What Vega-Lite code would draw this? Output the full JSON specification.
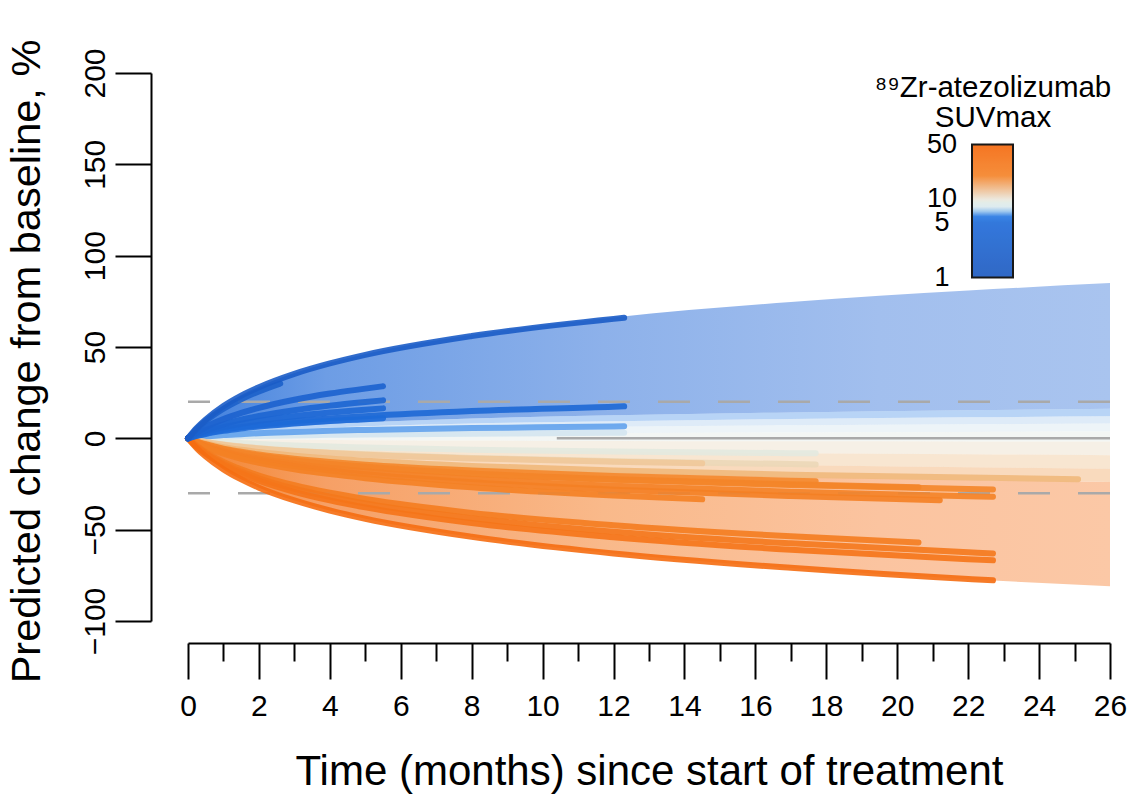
{
  "$schema": "https://vega.github.io/schema/vega-lite/v6.json",
  "autosize": {"type": "none"},
  "padding": {"left": 188, "top": 73, "right": 25, "bottom": 173},
  "width": 922,
  "height": 548,
  "background": "white",
  "config": {
    "view": {"stroke": null},
    "font": "Liberation Sans",
    "axis": {"grid": false, "domainColor": "black", "domainWidth": 2, "tickColor": "black", "tickWidth": 2, "labelColor": "black", "titleColor": "black", "labelFont": "Liberation Sans", "titleFont": "Liberation Sans", "titleFontWeight": "normal"},
    "legend": {"labelFont": "Liberation Sans", "titleFont": "Liberation Sans"}
  },
  "datasets": {
    "fan": [
      {"t": 0, "e0": 0, "e1": 0, "e2": 0, "e3": 0, "e4": 0, "e5": 0, "e6": 0, "e7": 0, "e8": 0, "e9": 0},
      {"t": 0.25, "e0": 5.8, "e1": 1.1, "e2": 0.8, "e3": 0.5, "e4": 0.25, "e5": -0.1, "e6": -0.6, "e7": -1.1, "e8": -1.6, "e9": -5.5},
      {"t": 0.5, "e0": 10.4, "e1": 2.0, "e2": 1.5, "e3": 1.0, "e4": 0.45, "e5": -0.2, "e6": -1.1, "e7": -2.0, "e8": -2.9, "e9": -10.0},
      {"t": 1, "e0": 17.9, "e1": 3.4, "e2": 2.5, "e3": 1.7, "e4": 0.8, "e5": -0.4, "e6": -1.9, "e7": -3.5, "e8": -5.0, "e9": -17.0},
      {"t": 2, "e0": 28.4, "e1": 5.4, "e2": 4.0, "e3": 2.7, "e4": 1.2, "e5": -0.6, "e6": -3.1, "e7": -5.5, "e8": -8.0, "e9": -27.0},
      {"t": 3, "e0": 35.8, "e1": 6.8, "e2": 5.1, "e3": 3.4, "e4": 1.6, "e5": -0.8, "e6": -3.9, "e7": -7.0, "e8": -10.0, "e9": -34.1},
      {"t": 5, "e0": 46.2, "e1": 8.8, "e2": 6.6, "e3": 4.4, "e4": 2.0, "e5": -1.0, "e6": -5.0, "e7": -9.0, "e8": -13.0, "e9": -44.0},
      {"t": 8, "e0": 56.7, "e1": 10.8, "e2": 8.1, "e3": 5.4, "e4": 2.5, "e5": -1.2, "e6": -6.1, "e7": -11.1, "e8": -15.9, "e9": -54.0},
      {"t": 12, "e0": 66.2, "e1": 12.6, "e2": 9.4, "e3": 6.3, "e4": 2.9, "e5": -1.4, "e6": -7.2, "e7": -12.9, "e8": -18.6, "e9": -63.0},
      {"t": 17, "e0": 74.6, "e1": 14.2, "e2": 10.6, "e3": 7.1, "e4": 3.2, "e5": -1.6, "e6": -8.1, "e7": -14.6, "e8": -21.0, "e9": -71.0},
      {"t": 22, "e0": 80.9, "e1": 15.4, "e2": 11.5, "e3": 7.7, "e4": 3.5, "e5": -1.7, "e6": -8.7, "e7": -15.8, "e8": -22.7, "e9": -77.1},
      {"t": 26, "e0": 85.0, "e1": 16.2, "e2": 12.1, "e3": 8.1, "e4": 3.7, "e5": -1.8, "e6": -9.2, "e7": -16.6, "e8": -23.9, "e9": -81.0}
    ],
    "patients": [
      {"id": "B9", "suv": 7.6, "t": 0, "pct": 0}, {"id": "B9", "suv": 7.6, "t": 0.25, "pct": 0.3}, {"id": "B9", "suv": 7.6, "t": 0.5, "pct": 0.5}, {"id": "B9", "suv": 7.6, "t": 1, "pct": 0.8}, {"id": "B9", "suv": 7.6, "t": 1.5, "pct": 1.1}, {"id": "B9", "suv": 7.6, "t": 2, "pct": 1.3}, {"id": "B9", "suv": 7.6, "t": 3, "pct": 1.6}, {"id": "B9", "suv": 7.6, "t": 4, "pct": 1.9}, {"id": "B9", "suv": 7.6, "t": 5, "pct": 2.1}, {"id": "B9", "suv": 7.6, "t": 8, "pct": 2.5}, {"id": "B9", "suv": 7.6, "t": 12, "pct": 3.0}, {"id": "B9", "suv": 7.6, "t": 12.3, "pct": 3.0},
      {"id": "O1", "suv": 9.5, "t": 0, "pct": 0}, {"id": "O1", "suv": 9.5, "t": 0.25, "pct": -0.6}, {"id": "O1", "suv": 9.5, "t": 0.5, "pct": -1.1}, {"id": "O1", "suv": 9.5, "t": 1, "pct": -1.9}, {"id": "O1", "suv": 9.5, "t": 1.5, "pct": -2.6}, {"id": "O1", "suv": 9.5, "t": 2, "pct": -3.1}, {"id": "O1", "suv": 9.5, "t": 3, "pct": -3.9}, {"id": "O1", "suv": 9.5, "t": 4, "pct": -4.5}, {"id": "O1", "suv": 9.5, "t": 5, "pct": -5.0}, {"id": "O1", "suv": 9.5, "t": 8, "pct": -6.2}, {"id": "O1", "suv": 9.5, "t": 12, "pct": -7.2}, {"id": "O1", "suv": 9.5, "t": 17, "pct": -8.1}, {"id": "O1", "suv": 9.5, "t": 17.7, "pct": -8.2},
      {"id": "B8", "suv": 6.8, "t": 0, "pct": 0}, {"id": "B8", "suv": 6.8, "t": 0.25, "pct": 0.6}, {"id": "B8", "suv": 6.8, "t": 0.5, "pct": 1.0}, {"id": "B8", "suv": 6.8, "t": 1, "pct": 1.8}, {"id": "B8", "suv": 6.8, "t": 1.5, "pct": 2.3}, {"id": "B8", "suv": 6.8, "t": 2, "pct": 2.8}, {"id": "B8", "suv": 6.8, "t": 3, "pct": 3.5}, {"id": "B8", "suv": 6.8, "t": 4, "pct": 4.1}, {"id": "B8", "suv": 6.8, "t": 5, "pct": 4.6}, {"id": "B8", "suv": 6.8, "t": 8, "pct": 5.6}, {"id": "B8", "suv": 6.8, "t": 12, "pct": 6.5}, {"id": "B8", "suv": 6.8, "t": 12.3, "pct": 6.6},
      {"id": "O2", "suv": 11, "t": 0, "pct": 0}, {"id": "O2", "suv": 11, "t": 0.25, "pct": -1.1}, {"id": "O2", "suv": 11, "t": 0.5, "pct": -2.0}, {"id": "O2", "suv": 11, "t": 1, "pct": -3.4}, {"id": "O2", "suv": 11, "t": 1.5, "pct": -4.5}, {"id": "O2", "suv": 11, "t": 2, "pct": -5.4}, {"id": "O2", "suv": 11, "t": 3, "pct": -6.8}, {"id": "O2", "suv": 11, "t": 4, "pct": -7.9}, {"id": "O2", "suv": 11, "t": 5, "pct": -8.7}, {"id": "O2", "suv": 11, "t": 8, "pct": -10.7}, {"id": "O2", "suv": 11, "t": 12, "pct": -12.5}, {"id": "O2", "suv": 11, "t": 17, "pct": -14.1}, {"id": "O2", "suv": 11, "t": 17.7, "pct": -14.3},
      {"id": "O3", "suv": 12, "t": 0, "pct": 0}, {"id": "O3", "suv": 12, "t": 0.25, "pct": -1.1}, {"id": "O3", "suv": 12, "t": 0.5, "pct": -2.0}, {"id": "O3", "suv": 12, "t": 1, "pct": -3.5}, {"id": "O3", "suv": 12, "t": 1.5, "pct": -4.6}, {"id": "O3", "suv": 12, "t": 2, "pct": -5.5}, {"id": "O3", "suv": 12, "t": 3, "pct": -6.9}, {"id": "O3", "suv": 12, "t": 4, "pct": -8.0}, {"id": "O3", "suv": 12, "t": 5, "pct": -9.0}, {"id": "O3", "suv": 12, "t": 8, "pct": -11.0}, {"id": "O3", "suv": 12, "t": 12, "pct": -12.8}, {"id": "O3", "suv": 12, "t": 14.5, "pct": -13.7},
      {"id": "O4", "suv": 13, "t": 0, "pct": 0}, {"id": "O4", "suv": 13, "t": 0.25, "pct": -1.5}, {"id": "O4", "suv": 13, "t": 0.5, "pct": -2.8}, {"id": "O4", "suv": 13, "t": 1, "pct": -4.8}, {"id": "O4", "suv": 13, "t": 1.5, "pct": -6.3}, {"id": "O4", "suv": 13, "t": 2, "pct": -7.5}, {"id": "O4", "suv": 13, "t": 3, "pct": -9.5}, {"id": "O4", "suv": 13, "t": 4, "pct": -11.1}, {"id": "O4", "suv": 13, "t": 5, "pct": -12.3}, {"id": "O4", "suv": 13, "t": 8, "pct": -15.1}, {"id": "O4", "suv": 13, "t": 12, "pct": -17.6}, {"id": "O4", "suv": 13, "t": 17, "pct": -19.9}, {"id": "O4", "suv": 13, "t": 22, "pct": -21.5}, {"id": "O4", "suv": 13, "t": 25.1, "pct": -22.4},
      {"id": "O5", "suv": 16, "t": 0, "pct": 0}, {"id": "O5", "suv": 16, "t": 0.25, "pct": -1.8}, {"id": "O5", "suv": 16, "t": 0.5, "pct": -3.2}, {"id": "O5", "suv": 16, "t": 1, "pct": -5.6}, {"id": "O5", "suv": 16, "t": 1.5, "pct": -7.3}, {"id": "O5", "suv": 16, "t": 2, "pct": -8.8}, {"id": "O5", "suv": 16, "t": 3, "pct": -11.1}, {"id": "O5", "suv": 16, "t": 4, "pct": -12.9}, {"id": "O5", "suv": 16, "t": 5, "pct": -14.4}, {"id": "O5", "suv": 16, "t": 8, "pct": -17.6}, {"id": "O5", "suv": 16, "t": 12, "pct": -20.6}, {"id": "O5", "suv": 16, "t": 17, "pct": -23.2}, {"id": "O5", "suv": 16, "t": 17.7, "pct": -23.5},
      {"id": "O6", "suv": 17, "t": 0, "pct": 0}, {"id": "O6", "suv": 17, "t": 0.25, "pct": -1.9}, {"id": "O6", "suv": 17, "t": 0.5, "pct": -3.5}, {"id": "O6", "suv": 17, "t": 1, "pct": -6.0}, {"id": "O6", "suv": 17, "t": 1.5, "pct": -8.0}, {"id": "O6", "suv": 17, "t": 2, "pct": -9.6}, {"id": "O6", "suv": 17, "t": 3, "pct": -12.1}, {"id": "O6", "suv": 17, "t": 4, "pct": -14.0}, {"id": "O6", "suv": 17, "t": 5, "pct": -15.6}, {"id": "O6", "suv": 17, "t": 8, "pct": -19.2}, {"id": "O6", "suv": 17, "t": 12, "pct": -22.4}, {"id": "O6", "suv": 17, "t": 17, "pct": -25.2}, {"id": "O6", "suv": 17, "t": 20.6, "pct": -26.8},
      {"id": "O7", "suv": 18, "t": 0, "pct": 0}, {"id": "O7", "suv": 18, "t": 0.25, "pct": -2.0}, {"id": "O7", "suv": 18, "t": 0.5, "pct": -3.6}, {"id": "O7", "suv": 18, "t": 1, "pct": -6.1}, {"id": "O7", "suv": 18, "t": 1.5, "pct": -8.1}, {"id": "O7", "suv": 18, "t": 2, "pct": -9.7}, {"id": "O7", "suv": 18, "t": 3, "pct": -12.3}, {"id": "O7", "suv": 18, "t": 4, "pct": -14.2}, {"id": "O7", "suv": 18, "t": 5, "pct": -15.9}, {"id": "O7", "suv": 18, "t": 8, "pct": -19.4}, {"id": "O7", "suv": 18, "t": 12, "pct": -22.7}, {"id": "O7", "suv": 18, "t": 17, "pct": -25.6}, {"id": "O7", "suv": 18, "t": 22, "pct": -27.7}, {"id": "O7", "suv": 18, "t": 22.7, "pct": -28.0},
      {"id": "O8", "suv": 20, "t": 0, "pct": 0}, {"id": "O8", "suv": 20, "t": 0.25, "pct": -2.3}, {"id": "O8", "suv": 20, "t": 0.5, "pct": -4.1}, {"id": "O8", "suv": 20, "t": 1, "pct": -7.0}, {"id": "O8", "suv": 20, "t": 1.5, "pct": -9.3}, {"id": "O8", "suv": 20, "t": 2, "pct": -11.1}, {"id": "O8", "suv": 20, "t": 3, "pct": -14.0}, {"id": "O8", "suv": 20, "t": 4, "pct": -16.3}, {"id": "O8", "suv": 20, "t": 5, "pct": -18.1}, {"id": "O8", "suv": 20, "t": 8, "pct": -22.2}, {"id": "O8", "suv": 20, "t": 12, "pct": -25.9}, {"id": "O8", "suv": 20, "t": 17, "pct": -29.2}, {"id": "O8", "suv": 20, "t": 22, "pct": -31.7}, {"id": "O8", "suv": 20, "t": 22.7, "pct": -32.0},
      {"id": "O9", "suv": 22, "t": 0, "pct": 0}, {"id": "O9", "suv": 22, "t": 0.25, "pct": -2.4}, {"id": "O9", "suv": 22, "t": 0.5, "pct": -4.4}, {"id": "O9", "suv": 22, "t": 1, "pct": -7.6}, {"id": "O9", "suv": 22, "t": 1.5, "pct": -10.0}, {"id": "O9", "suv": 22, "t": 2, "pct": -12.0}, {"id": "O9", "suv": 22, "t": 3, "pct": -15.2}, {"id": "O9", "suv": 22, "t": 4, "pct": -17.6}, {"id": "O9", "suv": 22, "t": 5, "pct": -19.6}, {"id": "O9", "suv": 22, "t": 8, "pct": -24.0}, {"id": "O9", "suv": 22, "t": 12, "pct": -28.1}, {"id": "O9", "suv": 22, "t": 17, "pct": -31.6}, {"id": "O9", "suv": 22, "t": 21.2, "pct": -33.9},
      {"id": "O10", "suv": 21, "t": 0, "pct": 0}, {"id": "O10", "suv": 21, "t": 0.25, "pct": -2.7}, {"id": "O10", "suv": 21, "t": 0.5, "pct": -4.9}, {"id": "O10", "suv": 21, "t": 1, "pct": -8.4}, {"id": "O10", "suv": 21, "t": 1.5, "pct": -11.2}, {"id": "O10", "suv": 21, "t": 2, "pct": -13.4}, {"id": "O10", "suv": 21, "t": 3, "pct": -16.9}, {"id": "O10", "suv": 21, "t": 4, "pct": -19.6}, {"id": "O10", "suv": 21, "t": 5, "pct": -21.8}, {"id": "O10", "suv": 21, "t": 8, "pct": -26.8}, {"id": "O10", "suv": 21, "t": 12, "pct": -31.3}, {"id": "O10", "suv": 21, "t": 14.5, "pct": -33.4},
      {"id": "O11", "suv": 25, "t": 0, "pct": 0}, {"id": "O11", "suv": 25, "t": 0.25, "pct": -4.1}, {"id": "O11", "suv": 25, "t": 0.5, "pct": -7.5}, {"id": "O11", "suv": 25, "t": 1, "pct": -12.9}, {"id": "O11", "suv": 25, "t": 1.5, "pct": -17.0}, {"id": "O11", "suv": 25, "t": 2, "pct": -20.4}, {"id": "O11", "suv": 25, "t": 3, "pct": -25.7}, {"id": "O11", "suv": 25, "t": 4, "pct": -29.8}, {"id": "O11", "suv": 25, "t": 5, "pct": -33.2}, {"id": "O11", "suv": 25, "t": 8, "pct": -40.8}, {"id": "O11", "suv": 25, "t": 12, "pct": -47.6}, {"id": "O11", "suv": 25, "t": 17, "pct": -53.6}, {"id": "O11", "suv": 25, "t": 20.6, "pct": -57.0},
      {"id": "O12", "suv": 28, "t": 0, "pct": 0}, {"id": "O12", "suv": 28, "t": 0.25, "pct": -4.4}, {"id": "O12", "suv": 28, "t": 0.5, "pct": -8.1}, {"id": "O12", "suv": 28, "t": 1, "pct": -13.8}, {"id": "O12", "suv": 28, "t": 1.5, "pct": -18.2}, {"id": "O12", "suv": 28, "t": 2, "pct": -21.9}, {"id": "O12", "suv": 28, "t": 3, "pct": -27.6}, {"id": "O12", "suv": 28, "t": 4, "pct": -32.0}, {"id": "O12", "suv": 28, "t": 5, "pct": -35.7}, {"id": "O12", "suv": 28, "t": 8, "pct": -43.7}, {"id": "O12", "suv": 28, "t": 12, "pct": -51.1}, {"id": "O12", "suv": 28, "t": 17, "pct": -57.5}, {"id": "O12", "suv": 28, "t": 22, "pct": -62.4}, {"id": "O12", "suv": 28, "t": 22.7, "pct": -63.0},
      {"id": "O13", "suv": 32, "t": 0, "pct": 0}, {"id": "O13", "suv": 32, "t": 0.25, "pct": -4.7}, {"id": "O13", "suv": 32, "t": 0.5, "pct": -8.5}, {"id": "O13", "suv": 32, "t": 1, "pct": -14.6}, {"id": "O13", "suv": 32, "t": 1.5, "pct": -19.3}, {"id": "O13", "suv": 32, "t": 2, "pct": -23.2}, {"id": "O13", "suv": 32, "t": 3, "pct": -29.3}, {"id": "O13", "suv": 32, "t": 4, "pct": -34.0}, {"id": "O13", "suv": 32, "t": 5, "pct": -37.8}, {"id": "O13", "suv": 32, "t": 8, "pct": -46.4}, {"id": "O13", "suv": 32, "t": 12, "pct": -54.1}, {"id": "O13", "suv": 32, "t": 17, "pct": -61.0}, {"id": "O13", "suv": 32, "t": 22, "pct": -66.2}, {"id": "O13", "suv": 32, "t": 22.7, "pct": -66.8},
      {"id": "O14", "suv": 40, "t": 0, "pct": 0}, {"id": "O14", "suv": 40, "t": 0.25, "pct": -5.5}, {"id": "O14", "suv": 40, "t": 0.5, "pct": -9.9}, {"id": "O14", "suv": 40, "t": 1, "pct": -17.0}, {"id": "O14", "suv": 40, "t": 1.5, "pct": -22.5}, {"id": "O14", "suv": 40, "t": 2, "pct": -27.0}, {"id": "O14", "suv": 40, "t": 3, "pct": -34.0}, {"id": "O14", "suv": 40, "t": 4, "pct": -39.5}, {"id": "O14", "suv": 40, "t": 5, "pct": -44.0}, {"id": "O14", "suv": 40, "t": 8, "pct": -53.9}, {"id": "O14", "suv": 40, "t": 12, "pct": -63.0}, {"id": "O14", "suv": 40, "t": 17, "pct": -70.9}, {"id": "O14", "suv": 40, "t": 22, "pct": -77.0}, {"id": "O14", "suv": 40, "t": 22.7, "pct": -77.7},
      {"id": "B7", "suv": 4.2, "t": 0, "pct": 0}, {"id": "B7", "suv": 4.2, "t": 0.25, "pct": 1.5}, {"id": "B7", "suv": 4.2, "t": 0.5, "pct": 2.7}, {"id": "B7", "suv": 4.2, "t": 1, "pct": 4.7}, {"id": "B7", "suv": 4.2, "t": 1.5, "pct": 6.2}, {"id": "B7", "suv": 4.2, "t": 2, "pct": 7.4}, {"id": "B7", "suv": 4.2, "t": 3, "pct": 9.4}, {"id": "B7", "suv": 4.2, "t": 4, "pct": 10.9}, {"id": "B7", "suv": 4.2, "t": 5, "pct": 12.1}, {"id": "B7", "suv": 4.2, "t": 8, "pct": 14.9}, {"id": "B7", "suv": 4.2, "t": 12, "pct": 17.3}, {"id": "B7", "suv": 4.2, "t": 12.3, "pct": 17.5},
      {"id": "B6", "suv": 5, "t": 0, "pct": 0}, {"id": "B6", "suv": 5, "t": 0.25, "pct": 1.3}, {"id": "B6", "suv": 5, "t": 0.5, "pct": 2.4}, {"id": "B6", "suv": 5, "t": 1, "pct": 4.1}, {"id": "B6", "suv": 5, "t": 1.5, "pct": 5.4}, {"id": "B6", "suv": 5, "t": 2, "pct": 6.5}, {"id": "B6", "suv": 5, "t": 3, "pct": 8.1}, {"id": "B6", "suv": 5, "t": 4, "pct": 9.5}, {"id": "B6", "suv": 5, "t": 5, "pct": 10.5}, {"id": "B6", "suv": 5, "t": 5.5, "pct": 11.0},
      {"id": "B5", "suv": 3.8, "t": 0, "pct": 0}, {"id": "B5", "suv": 3.8, "t": 0.25, "pct": 2.0}, {"id": "B5", "suv": 3.8, "t": 0.5, "pct": 3.5}, {"id": "B5", "suv": 3.8, "t": 1, "pct": 6.1}, {"id": "B5", "suv": 3.8, "t": 1.5, "pct": 8.0}, {"id": "B5", "suv": 3.8, "t": 2, "pct": 9.6}, {"id": "B5", "suv": 3.8, "t": 3, "pct": 12.1}, {"id": "B5", "suv": 3.8, "t": 4, "pct": 14.1}, {"id": "B5", "suv": 3.8, "t": 5, "pct": 15.7}, {"id": "B5", "suv": 3.8, "t": 5.5, "pct": 16.4},
      {"id": "B4", "suv": 3.2, "t": 0, "pct": 0}, {"id": "B4", "suv": 3.2, "t": 0.25, "pct": 2.5}, {"id": "B4", "suv": 3.2, "t": 0.5, "pct": 4.5}, {"id": "B4", "suv": 3.2, "t": 1, "pct": 7.7}, {"id": "B4", "suv": 3.2, "t": 1.5, "pct": 10.2}, {"id": "B4", "suv": 3.2, "t": 2, "pct": 12.2}, {"id": "B4", "suv": 3.2, "t": 3, "pct": 15.4}, {"id": "B4", "suv": 3.2, "t": 4, "pct": 17.9}, {"id": "B4", "suv": 3.2, "t": 5, "pct": 19.9}, {"id": "B4", "suv": 3.2, "t": 5.5, "pct": 20.8},
      {"id": "B3", "suv": 2.5, "t": 0, "pct": 0}, {"id": "B3", "suv": 2.5, "t": 0.25, "pct": 3.4}, {"id": "B3", "suv": 2.5, "t": 0.5, "pct": 6.2}, {"id": "B3", "suv": 2.5, "t": 1, "pct": 10.5}, {"id": "B3", "suv": 2.5, "t": 1.5, "pct": 13.9}, {"id": "B3", "suv": 2.5, "t": 2, "pct": 16.7}, {"id": "B3", "suv": 2.5, "t": 3, "pct": 21.1}, {"id": "B3", "suv": 2.5, "t": 4, "pct": 24.5}, {"id": "B3", "suv": 2.5, "t": 5, "pct": 27.2}, {"id": "B3", "suv": 2.5, "t": 5.5, "pct": 28.5},
      {"id": "B2", "suv": 2, "t": 0, "pct": 0}, {"id": "B2", "suv": 2, "t": 0.25, "pct": 5.2}, {"id": "B2", "suv": 2, "t": 0.5, "pct": 9.5}, {"id": "B2", "suv": 2, "t": 1, "pct": 16.2}, {"id": "B2", "suv": 2, "t": 1.5, "pct": 21.4}, {"id": "B2", "suv": 2, "t": 2, "pct": 25.7}, {"id": "B2", "suv": 2, "t": 2.6, "pct": 30.0},
      {"id": "B1", "suv": 1.5, "t": 0, "pct": 0}, {"id": "B1", "suv": 1.5, "t": 0.25, "pct": 5.7}, {"id": "B1", "suv": 1.5, "t": 0.5, "pct": 10.3}, {"id": "B1", "suv": 1.5, "t": 1, "pct": 17.7}, {"id": "B1", "suv": 1.5, "t": 1.5, "pct": 23.4}, {"id": "B1", "suv": 1.5, "t": 2, "pct": 28.0}, {"id": "B1", "suv": 1.5, "t": 3, "pct": 35.3}, {"id": "B1", "suv": 1.5, "t": 4, "pct": 41.0}, {"id": "B1", "suv": 1.5, "t": 5, "pct": 45.7}, {"id": "B1", "suv": 1.5, "t": 8, "pct": 56.0}, {"id": "B1", "suv": 1.5, "t": 12, "pct": 65.4}, {"id": "B1", "suv": 1.5, "t": 12.3, "pct": 66.0}
    ]
  },
  "data": {"name": "fan"},
  "encoding": {
    "x": {
      "field": "t", "type": "quantitative",
      "scale": {"domain": [0, 26], "nice": false, "zero": false},
      "axis": {
        "title": "Time (months) since start of treatment",
        "values": [0,1,2,3,4,5,6,7,8,9,10,11,12,13,14,15,16,17,18,19,20,21,22,23,24,25,26],
        "labelExpr": "datum.value % 2 == 0 ? datum.label : ''",
        "tickSize": {"condition": {"test": "datum.value % 2 == 1", "value": 18}, "value": 36},
        "offset": 22,
        "labelFontSize": 30,
        "labelPadding": 12,
        "labelFlush": false,
        "labelOverlap": false,
        "titleFontSize": 42,
        "titlePadding": 30
      }
    }
  },
  "layer": [
    {
      "mark": {"type": "area", "interpolate": "monotone", "color": {"gradient": "linear", "x1": 0, "y1": 0, "x2": 1, "y2": 0, "stops": [{"offset": 0, "color": "#3f7fdd"}, {"offset": 0.15, "color": "#6d9de5"}, {"offset": 0.45, "color": "#8db1ea"}, {"offset": 0.75, "color": "#a2bfee"}, {"offset": 1, "color": "#a9c4ef"}]}},
      "encoding": {
        "y": {"field": "e0", "type": "quantitative", "scale": {"domain": [-100, 200], "nice": false, "zero": false},
          "axis": {
            "title": "Predicted change from baseline, %",
            "values": [-100, -50, 0, 50, 100, 150, 200],
            "offset": 37,
            "tickSize": 36,
            "labelAngle": -90,
            "labelAlign": "center",
            "labelBaseline": "alphabetic",
            "labelPadding": 11,
            "labelFontSize": 30,
            "labelFlush": false,
            "labelOverlap": false,
            "titleFontSize": 41.5,
            "titleX": -103,
            "titleY": 288
          }
        },
        "y2": {"field": "e1"}
      }
    },
    {"mark": {"type": "area", "interpolate": "monotone", "opacity": 0.45, "color": "#62a0eb"}, "encoding": {"y": {"field": "e1", "type": "quantitative"}, "y2": {"field": "e2"}}},
    {"mark": {"type": "area", "interpolate": "monotone", "opacity": 0.45, "color": "#b5d2ef"}, "encoding": {"y": {"field": "e2", "type": "quantitative"}, "y2": {"field": "e3"}}},
    {"mark": {"type": "area", "interpolate": "monotone", "opacity": 0.45, "color": "#d8e7ef"}, "encoding": {"y": {"field": "e3", "type": "quantitative"}, "y2": {"field": "e4"}}},
    {"mark": {"type": "area", "interpolate": "monotone", "opacity": 0.45, "color": "#e5eae6"}, "encoding": {"y": {"field": "e4", "type": "quantitative"}, "y2": {"field": "e5"}}},
    {"mark": {"type": "area", "interpolate": "monotone", "opacity": 0.45, "color": "#ecddc7"}, "encoding": {"y": {"field": "e5", "type": "quantitative"}, "y2": {"field": "e6"}}},
    {"mark": {"type": "area", "interpolate": "monotone", "opacity": 0.45, "color": "#efc89a"}, "encoding": {"y": {"field": "e6", "type": "quantitative"}, "y2": {"field": "e7"}}},
    {"mark": {"type": "area", "interpolate": "monotone", "opacity": 0.45, "color": "#f1ae6d"}, "encoding": {"y": {"field": "e7", "type": "quantitative"}, "y2": {"field": "e8"}}},
    {
      "mark": {"type": "area", "interpolate": "monotone", "color": {"gradient": "linear", "x1": 0, "y1": 0, "x2": 1, "y2": 0, "stops": [{"offset": 0, "color": "#f3832c"}, {"offset": 0.15, "color": "#f6a066"}, {"offset": 0.45, "color": "#f9b98a"}, {"offset": 0.75, "color": "#fbc4a0"}, {"offset": 1, "color": "#fbc8a6"}]}},
      "encoding": {"y": {"field": "e8", "type": "quantitative"}, "y2": {"field": "e9"}}
    },
    {
      "data": {"values": [{"ref": 20}, {"ref": -30}]},
      "mark": {"type": "rule", "color": "#a9a9a9", "strokeWidth": 2.5, "strokeDash": [32, 28]},
      "encoding": {"x": null, "y": {"field": "ref", "type": "quantitative"}}
    },
    {
      "data": {"values": [{"ref": 0, "from": 10.4, "to": 26}]},
      "mark": {"type": "rule", "color": "#a9a9a9", "strokeWidth": 2.5},
      "encoding": {"x": {"field": "from", "type": "quantitative"}, "x2": {"field": "to"}, "y": {"field": "ref", "type": "quantitative"}}
    },
    {
      "data": {"name": "patients"},
      "mark": {"type": "line", "interpolate": "monotone", "strokeWidth": 6, "strokeCap": "round", "opacity": 0.9},
      "encoding": {
        "x": {"field": "t", "type": "quantitative"},
        "y": {"field": "pct", "type": "quantitative"},
        "detail": {"field": "id"},
        "color": {
          "field": "suv", "type": "quantitative",
          "scale": {"type": "log", "domain": [1, 5, 6.6, 7.2, 8.5, 10, 12, 16, 50], "range": ["#1a58c0", "#1d6ad8", "#2a7ee8", "#cfe2f0", "#e2ecee", "#ebe6da", "#efc89a", "#f4882c", "#f5660a"]},
          "legend": {
            "type": "gradient",
            "title": ["⁸⁹Zr-atezolizumab", "SUVmax"],
            "orient": "none",
            "legendX": 687,
            "legendY": 1,
            "direction": "vertical",
            "padding": 0,
            "values": [1, 5, 10, 50],
            "gradientLength": 133,
            "gradientThickness": 41,
            "gradientStrokeColor": "black",
            "gradientStrokeWidth": 2,
            "labelFontSize": 27,
            "labelOverlap": false,
            "labelColor": "black",
            "titleFontSize": 29.5,
            "titleFontWeight": "normal",
            "titleColor": "black",
            "titleAlign": "center",
            "titleAnchor": "middle",
            "titleLineHeight": 30,
            "titlePadding": 11,
            "titleLimit": 400,
            "encoding": {"labels": {"align": {"value": "center"}, "baseline": {"value": "middle"}, "x": {"value": -30}}}
          }
        }
      }
    }
  ]
}
